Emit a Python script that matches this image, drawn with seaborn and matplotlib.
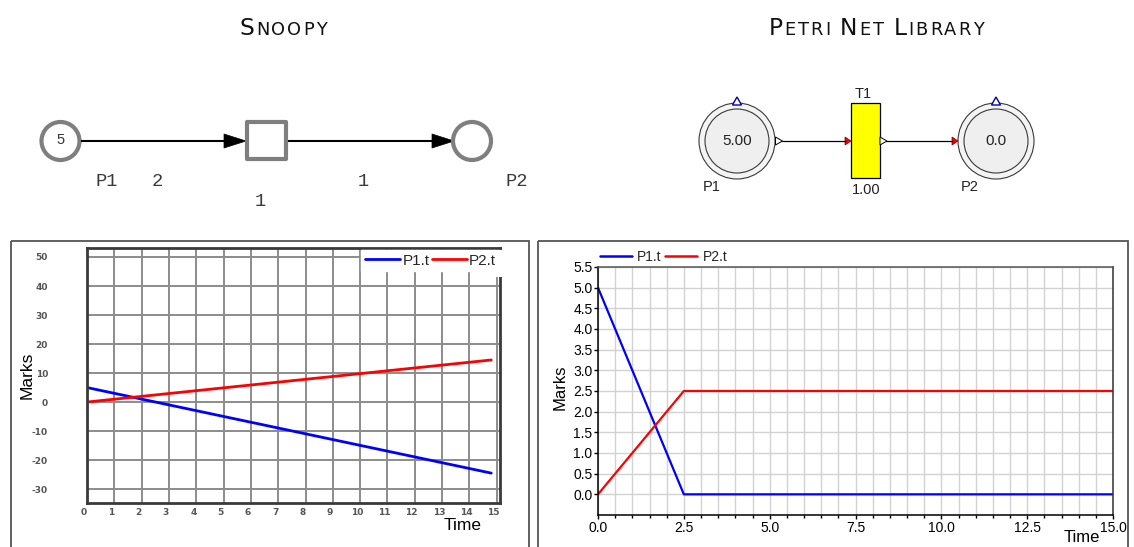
import matplotlib
matplotlib.use("Agg")
import matplotlib.pyplot as plt
import seaborn as sns
import pandas as pd
from matplotlib.patches import Circle, Rectangle, Polygon
from matplotlib.ticker import MultipleLocator, FormatStrFormatter
from matplotlib.transforms import ScaledTranslation

# ---------------- data ----------------
series_names = ["P1.t", "P2.t"]
series_colors = ["#0000ff", "#ff0000"]

snoopy_time = [0.0, 14.8]
snoopy_p1 = [5.0, -24.5]
snoopy_p2 = [0.0, 14.5]

pnlib_time = [0.0, 2.5, 15.0]
pnlib_p1 = [5.0, 0.0, 0.0]
pnlib_p2 = [0.0, 2.5, 2.5]

snoopy_xticks = [0, 1, 2, 3, 4, 5, 6, 7, 8, 9, 10, 11, 12, 13, 14, 15]
snoopy_yticks = [-30, -20, -10, 0, 10, 20, 30, 40, 50]
pnlib_xticks = [0.0, 2.5, 5.0, 7.5, 10.0, 12.5, 15.0]
pnlib_yticks = [0.0, 0.5, 1.0, 1.5, 2.0, 2.5, 3.0, 3.5, 4.0, 4.5, 5.0, 5.5]

title_left = ["Snoopy"]
title_right = ["Petri", "Net", "Library"]

# ---------------- setup ----------------
sns.set_theme(style="white")
plt.rcParams["font.family"] = ["Liberation Sans", "DejaVu Sans"]
plt.rcParams["axes.unicode_minus"] = False

W, H = 1134, 547
fig = plt.figure(figsize=(W / 100, H / 100), dpi=100)
fig.patch.set_facecolor("white")
bg = fig.add_axes([0, 0, 1, 1], zorder=0)
bg.set_xlim(0, W)
bg.set_ylim(H, 0)
bg.axis("off")


def px_axes(l, t, r, b):
    return fig.add_axes([l / W, 1 - b / H, (r - l) / W, (b - t) / H], zorder=2)


renderer = fig.canvas.get_renderer()


def smallcaps(words, xc, baseline, big=16.8, small=12.8, track=2.0, space=8.0):
    items = []
    x = 0.0
    for wi, w in enumerate(words):
        for ci, ch in enumerate(w):
            size = big if ci == 0 else small
            t = bg.text(x, baseline, ch.upper(), fontsize=size, ha="left",
                        va="baseline", family="DejaVu Sans", color="#111111")
            wdt = t.get_window_extent(renderer).width
            items.append((t, x))
            x += wdt + track
        x += space
    total = x - space - track
    x0 = xc - total / 2
    for t, xx in items:
        t.set_x(x0 + xx)


smallcaps(title_left, 283, 35)
smallcaps(title_right, 876, 35)

# ---------------- Snoopy net diagram ----------------
gray = "#7f7f7f"
cy = 141
bg.plot([81, 230], [cy, cy], color="black", lw=1.5, solid_capstyle="butt")
bg.add_patch(Polygon([(224, cy - 7), (224, cy + 7), (246, cy)], closed=True, fc="black", ec="black", lw=0.5))
bg.plot([288, 436], [cy, cy], color="black", lw=1.5, solid_capstyle="butt")
bg.add_patch(Polygon([(432, cy - 7), (432, cy + 7), (454, cy)], closed=True, fc="black", ec="black", lw=0.5))
bg.add_patch(Circle((60.5, cy), 19, fc="white", ec=gray, lw=3))
bg.add_patch(Circle((472, cy), 19, fc="white", ec=gray, lw=3))
bg.add_patch(Rectangle((247, 122), 39, 37, fc="white", ec=gray, lw=3, joinstyle="round"))
bg.text(60.5, cy - 1, "5", fontsize=10.5, ha="center", va="center", color="#333333")
mono = dict(family="Liberation Mono", fontsize=13.5, color="#3a3a3a", ha="center", va="center")
bg.text(107, 181, "P1", **mono)
bg.text(157, 181, "2", **mono)
bg.text(260, 202, "1", **mono)
bg.text(363, 181, "1", **mono)
bg.text(517, 181, "P2", **mono)

# ---------------- PNlib net diagram ----------------
for cx, val in [(737, "5.00"), (996, "0.0")]:
    bg.add_patch(Circle((cx, cy), 38, fc="#f4f4f4", ec="#3a3a3a", lw=0.8))
    bg.add_patch(Circle((cx, cy), 32, fc="#efefef", ec="#3a3a3a", lw=0.8))
    bg.add_patch(Polygon([(cx - 4.5, 105), (cx + 4.5, 105), (cx, 97)], closed=True,
                         fc="white", ec="#0000b0", lw=1.0))
    bg.text(cx, cy, val, fontsize=11, ha="center", va="center", color="#222222")
bg.plot([782, 846], [cy, cy], color="black", lw=0.9)
bg.plot([886, 953], [cy, cy], color="black", lw=0.9)
bg.add_patch(Rectangle((851, 103), 29, 75, fc="#ffff00", ec="black", lw=0.9))
for x0 in (775.5, 880):
    bg.add_patch(Polygon([(x0, cy - 4), (x0, cy + 4), (x0 + 7, cy)], closed=True,
                         fc="white", ec="black", lw=0.7))
for x0 in (845, 952):
    bg.add_patch(Polygon([(x0, cy - 4), (x0, cy + 4), (x0 + 6, cy)], closed=True,
                         fc="#ff0000", ec="#700000", lw=0.5))
sans = dict(fontsize=10.5, ha="center", va="center", color="#222222")
bg.text(863, 94, "T1", **sans)
bg.text(866, 190, "1.00", **sans)
bg.text(712, 187, "P1", **sans)
bg.text(970, 187, "P2", **sans)

# ---------------- outer frames ----------------
bg.add_patch(Rectangle((11, 241), 518, 330, fill=False, ec="#555555", lw=1.3))
bg.add_patch(Rectangle((538, 241), 590, 330, fill=False, ec="#555555", lw=1.3))

palette = dict(zip(series_names, series_colors))

# ---------------- left plot (Snoopy) ----------------
ax1 = px_axes(87, 248, 500, 503)
df1 = pd.DataFrame({
    "Time": snoopy_time + snoopy_time,
    "Marks": snoopy_p1 + snoopy_p2,
    "Place": [series_names[0]] * len(snoopy_time) + [series_names[1]] * len(snoopy_time),
})
sns.lineplot(data=df1, x="Time", y="Marks", hue="Place", palette=palette, ax=ax1,
             linewidth=2.0, legend=True)
ax1.set_xlim(0, 15.12)
ax1.set_ylim(-34.8, 53.1)
ax1.set_xticks(snoopy_xticks)
ax1.set_yticks(snoopy_yticks)
ax1.set_xlabel("")
ax1.set_ylabel("")
ax1.grid(True, color="#8c8c8c", lw=1.4)
ax1.set_axisbelow(True)
ax1.tick_params(axis="both", length=0, labelsize=6.5, labelcolor="#555555")
ax1.tick_params(axis="y", pad=28)
ax1.tick_params(axis="x", pad=3.5)
for lbl in ax1.get_xticklabels() + ax1.get_yticklabels():
    lbl.set_family("DejaVu Sans")
    lbl.set_fontweight("bold")
offs = ScaledTranslation(-3 / 100, 0, fig.dpi_scale_trans)
for lbl in ax1.get_xticklabels():
    lbl.set_transform(lbl.get_transform() + offs)
for sp in ax1.spines.values():
    sp.set_color("#3a3a3a")
    sp.set_linewidth(2.0)
# white patch hiding the top of the right spine next to the legend
ax1.add_patch(Rectangle((0.99, 1 - 29 / 255), 0.03, 27 / 255, transform=ax1.transAxes,
                        fc="white", ec="none", zorder=4, clip_on=False))
sns.move_legend(ax1, "upper right", bbox_to_anchor=(1.0, 0.993), ncol=2, title=None,
                frameon=True, facecolor="white", edgecolor="white", framealpha=1,
                fancybox=False, borderpad=0.25, fontsize=11, handlelength=2.3,
                handletextpad=0.15, columnspacing=0.15, borderaxespad=0)
for h in ax1.get_legend().legend_handles:
    h.set_linewidth(2.0)
bg.text(27, 375, "Marks", rotation=90, fontsize=12.5, ha="center", va="center", color="black")
bg.text(463, 525, "Time", fontsize=12.5, ha="center", va="center", color="black")

# ---------------- right plot (PNlib) ----------------
ax2 = px_axes(598, 267, 1113, 515)
df2 = pd.DataFrame({
    "Time": pnlib_time + pnlib_time,
    "Marks": pnlib_p1 + pnlib_p2,
    "Place": [series_names[0]] * len(pnlib_time) + [series_names[1]] * len(pnlib_time),
})
sns.lineplot(data=df2, x="Time", y="Marks", hue="Place", palette=palette, ax=ax2,
             linewidth=1.6, legend=True)
ax2.set_xlim(0, 15)
ax2.set_ylim(-0.5, 5.5)
ax2.set_xticks(pnlib_xticks)
ax2.set_yticks(pnlib_yticks)
ax2.xaxis.set_minor_locator(MultipleLocator(0.5))
ax2.xaxis.set_major_formatter(FormatStrFormatter("%.1f"))
ax2.yaxis.set_major_formatter(FormatStrFormatter("%.1f"))
ax2.set_xlabel("")
ax2.set_ylabel("")
ax2.grid(True, axis="x", which="both", color="#d2d2d2", lw=1.0)
ax2.grid(True, axis="y", which="major", color="#d2d2d2", lw=1.0)
ax2.set_axisbelow(True)
ax2.tick_params(axis="both", which="both", direction="out", length=3, width=1,
                color="black", labelsize=10, labelcolor="black", pad=1,
                bottom=True, left=True, top=False, right=False)
ax2.tick_params(axis="x", which="minor", length=2.5)
for side, col in [("left", "black"), ("bottom", "black"), ("top", "#555555"), ("right", "#333333")]:
    ax2.spines[side].set_color(col)
    ax2.spines[side].set_linewidth(1.1)
sns.move_legend(ax2, "lower left", bbox_to_anchor=(-0.002, 1.0), ncol=2, title=None,
                frameon=False, fontsize=10, handlelength=2.3, handletextpad=0.4,
                columnspacing=0.25, borderaxespad=0.1, borderpad=0.1)
for h in ax2.get_legend().legend_handles:
    h.set_linewidth(1.8)
bg.text(560, 387, "Marks", rotation=90, fontsize=12, ha="center", va="center", color="black")
bg.text(1082, 530, "Time", fontsize=12, ha="center", va="top", color="black")

fig.savefig("out.png", dpi=100, facecolor="white")
